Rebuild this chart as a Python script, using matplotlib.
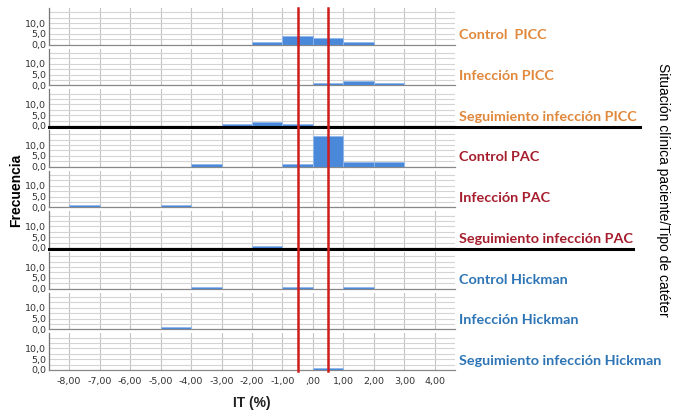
import numpy as np
import matplotlib.pyplot as plt
from matplotlib.lines import Line2D
from matplotlib.ticker import MultipleLocator, FuncFormatter
from matplotlib import transforms

# histogram bins (left edges, width 1) for IT (%)
bin_left = list(range(-8, 4))

groups = ['Control  PICC', 'Infección PICC', 'Seguimiento infección PICC',
          'Control PAC', 'Infección PAC', 'Seguimiento infección PAC',
          'Control Hickman', 'Infección Hickman', 'Seguimiento infección Hickman']

control_picc = [0, 0, 0, 0, 0, 0, 1, 4, 3, 1, 0, 0]
infeccion_picc = [0, 0, 0, 0, 0, 0, 0, 0, 1, 2, 1, 0]
seguimiento_picc = [0, 0, 0, 0, 0, 1, 2, 1, 0, 0, 0, 0]
control_pac = [0, 0, 0, 0, 1, 0, 0, 1, 14, 2, 2, 0]
infeccion_pac = [1, 0, 0, 1, 0, 0, 0, 0, 0, 0, 0, 0]
seguimiento_pac = [0, 0, 0, 0, 0, 0, 1, 0, 0, 0, 0, 0]
control_hickman = [0, 0, 0, 0, 1, 0, 0, 1, 0, 1, 0, 0]
infeccion_hickman = [0, 0, 0, 1, 0, 0, 0, 0, 0, 0, 0, 0]
seguimiento_hickman = [0, 0, 0, 0, 0, 0, 0, 0, 1, 0, 0, 0]

counts = [control_picc, infeccion_picc, seguimiento_picc,
          control_pac, infeccion_pac, seguimiento_pac,
          control_hickman, infeccion_hickman, seguimiento_hickman]

x_ticks = list(range(-8, 5))
y_ticks = [0, 5, 10]
ref_lines = [-0.5, 0.5]

orange = '#e0883c'
darkred = '#a61e2e'
blue = '#2e75b6'
label_colors = [orange] * 3 + [darkred] * 3 + [blue] * 3

W, H = 673, 415
fig, axes = plt.subplots(9, 1, figsize=(W / 100, H / 100), dpi=100, sharex=True)
fig.subplots_adjust(left=49 / W, right=455 / W, top=1 - 8 / H, bottom=1 - 370 / H,
                    hspace=0.11)


def xfmt(v, pos):
    s = ('%.2f' % v).replace('.', ',')
    if s == '0,00':
        s = ',00'
    return s


for i, ax in enumerate(axes):
    c = np.array(counts[i])
    left = np.array(bin_left)
    keep = c > 0
    ax.bar(left[keep], c[keep], width=1, align='edge', color='#4a88d9',
           edgecolor='#93b8ea', linewidth=0.6, zorder=3)
    ax.set_xlim(-8.66, 4.66)
    ax.set_ylim(0, 17)
    ax.set_yticks(y_ticks)
    ax.yaxis.set_minor_locator(MultipleLocator(2.5))
    ax.set_yticklabels([('%.1f' % v).replace('.', ',') for v in y_ticks])
    ax.set_xticks(x_ticks)
    ax.grid(True, which='both', axis='y', color='#d4d4d4', linewidth=0.8, zorder=0)
    ax.grid(True, which='major', axis='x', color='#c4c4c4', linewidth=0.8, zorder=0)
    ax.tick_params(axis='both', which='both', length=0, labelsize=6.8,
                   labelcolor='#333333', pad=3)
    ax.tick_params(axis='y', pad=2)
    for s in ['top', 'right']:
        ax.spines[s].set_visible(False)
    ax.spines['left'].set_color('#777777')
    ax.spines['bottom'].set_color('#888888')
    ax.spines['left'].set_linewidth(0.9)
    ax.spines['bottom'].set_linewidth(0.9)
    ax.set_axisbelow(True)
    tr_lab = transforms.blended_transform_factory(fig.transFigure, ax.transAxes)
    fig.text(459 / W, 0.25, groups[i], color=label_colors[i], fontsize=10.4,
             fontweight='bold', family='Lato', va='center', ha='left',
             transform=tr_lab)

axes[-1].xaxis.set_major_formatter(FuncFormatter(xfmt))
axes[-1].tick_params(axis='x', pad=5)

# red reference lines through all panels
tr = transforms.blended_transform_factory(axes[0].transData, fig.transFigure)
for xv in ref_lines:
    fig.add_artist(Line2D([xv, xv], [1 - 8 / H, 1 - 371 / H], transform=tr,
                          color='#d01c1c', linewidth=1.8, zorder=10))

# black separators between catheter types
fig.add_artist(Line2D([49 / W, 640 / W], [1 - 126.7 / H] * 2, color='black',
                      linewidth=2.2, transform=fig.transFigure))
fig.add_artist(Line2D([49 / W, 633 / W], [1 - 248.5 / H] * 2, color='black',
                      linewidth=2.2, transform=fig.transFigure))

fig.text(16 / W, 1 - 190 / H, 'Frecuencia', rotation=90, fontsize=10,
         fontweight='bold', family='Liberation Sans', ha='center', va='center')
fig.text(252 / W, 1 - 403 / H, 'IT (%)', fontsize=10, fontweight='bold',
         family='Liberation Sans', ha='center', va='center', color='#222222')
fig.text(663 / W, 1 - 190 / H, 'Situación clínica paciente/Tipo de catéter',
         rotation=-90, fontsize=10, family='Liberation Sans', ha='center',
         va='center')

fig.savefig('out.png', dpi=100)
